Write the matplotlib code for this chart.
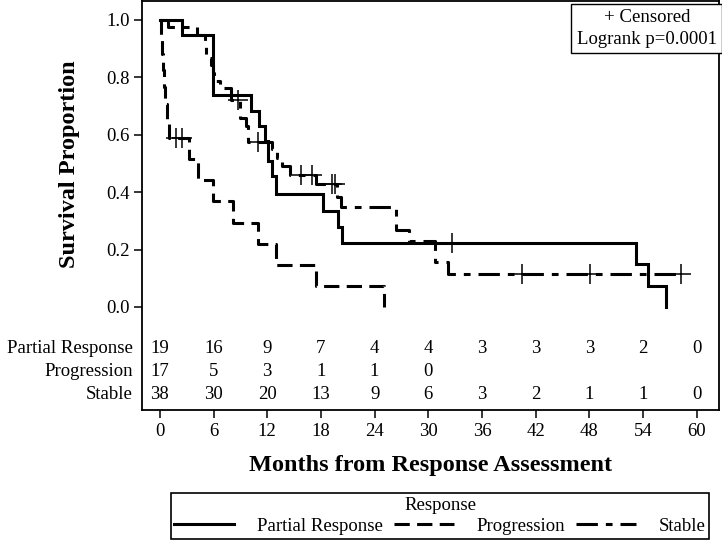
"""Kaplan-Meier curves by response group, with the numbers at risk."""

import matplotlib
matplotlib.use("Agg")
import matplotlib.pyplot as plt
from matplotlib.lines import Line2D
import numpy as np

plt.rcParams['font.family'] = ['Liberation Serif', 'DejaVu Serif']

# Ступінчасті криві (час у місяцях, частка тих, хто вижив)
pr_time = [0, 2.5, 5.9, 10.2, 11.1, 11.8, 12.1, 12.5, 13.0, 18.25, 19.9, 20.4, 53.2, 54.6, 56.6]
pr_surv = [1.0, 0.947, 0.737, 0.684, 0.632, 0.579, 0.51, 0.455, 0.394, 0.336, 0.28, 0.222, 0.149, 0.073, 0.0]
pr_cens = [32.7]

prog_time = [0, 0.1, 0.2, 0.35, 0.5, 0.6, 0.75, 1.0, 3.3, 4.3, 5.9, 8.2, 11.0, 13.0, 17.5, 25.1]
prog_surv = [1.0, 0.941, 0.882, 0.824, 0.765, 0.706, 0.647, 0.588, 0.515, 0.441, 0.368, 0.294, 0.221, 0.147, 0.074, 0.0]
prog_cens = [1.8, 2.5]

st_time = [0, 0.9, 4.1, 5.0, 5.1, 5.7, 5.9, 6.1, 6.7, 8.0, 8.9, 9.6, 9.9, 12.5, 13.1, 13.7,
           14.5, 17.4, 19.8, 20.3, 26.4, 27.8, 30.7, 32.2, 58.2]
st_surv = [1.0, 0.974, 0.947, 0.921, 0.868, 0.842, 0.816, 0.789, 0.763, 0.72, 0.66, 0.63, 0.576,
           0.55, 0.52, 0.49, 0.46, 0.427, 0.384, 0.35, 0.268, 0.23, 0.155, 0.114, 0.114]
st_cens = [8.7, 11.0, 15.8, 17.0, 19.2, 19.6, 40.5, 48.1, 58.2]

# Таблиця кількості пацієнтів під ризиком
risk_times = [0, 6, 12, 18, 24, 30, 36, 42, 48, 54, 60]
risk_labels = ['Partial Response', 'Progression', 'Stable']
risk_pr = [19, 16, 9, 7, 4, 4, 3, 3, 3, 2, 0]
risk_prog = [17, 5, 3, 1, 1, 0]
risk_st = [38, 30, 20, 13, 9, 6, 3, 2, 1, 1, 0]

LW = 2.2
styles = {
    'Partial Response': dict(linestyle='-'),
    'Progression': dict(linestyle=(0, (5, 2.4))),
    'Stable': dict(linestyle=(0, (7, 2.6, 2.2, 2.6))),
}


def step_value(times, surv, t):
    """Значення ступінчастої кривої в момент t."""
    i = np.searchsorted(times, t, side='right') - 1
    return surv[i]


fig = plt.figure(figsize=(7.22, 5.42), dpi=100)
ax = fig.add_axes([142 / 722, 1 - 410 / 542, 577 / 722, 409 / 542])

groups = [
    ('Partial Response', pr_time, pr_surv, pr_cens),
    ('Progression', prog_time, prog_surv, prog_cens),
    ('Stable', st_time, st_surv, st_cens),
]
for name, t, s, c in groups:
    ax.step(t, s, where='post', color='black', linewidth=LW,
            solid_joinstyle='miter', dash_capstyle='butt', **styles[name])
    cy = [step_value(t, s, x) for x in c]
    ax.plot(c, cy, linestyle='none', marker='+', markersize=15,
            markeredgewidth=1.1, color='black')

ax.set_xlim(-2.0, 62.5)
ax.set_ylim(-0.359, 1.066)
ax.set_yticks([0.0, 0.2, 0.4, 0.6, 0.8, 1.0])
ax.set_yticklabels(['0.0', '0.2', '0.4', '0.6', '0.8', '1.0'])
ax.set_xticks(risk_times)
ax.tick_params(axis='both', direction='out', length=6, width=1.1,
               labelsize=13.5, pad=3, colors='black')
for sp in ax.spines.values():
    sp.set_linewidth(1.3)

# Рядки таблиці під ризиком
row_y = [-0.146, -0.226, -0.306]
for label, counts, y in zip(risk_labels, [risk_pr, risk_prog, risk_st], row_y):
    ax.text(-3.0, y, label, ha='right', va='center', fontsize=13.5, clip_on=False)
    for t, n in zip(risk_times, counts):
        ax.text(t, y, str(n), ha='center', va='center', fontsize=13.5)

ax.text(0.996, 0.98, '+ Censored\nLogrank p=0.0001', transform=ax.transAxes,
        ha='right', va='top', multialignment='center', fontsize=13.5,
        linespacing=1.35,
        bbox=dict(boxstyle='square,pad=0.3', fc='white', ec='black', lw=1.0))

fig.text(70 / 722, 1 - 164 / 542, 'Survival Proportion', rotation=90,
         ha='center', va='center', fontsize=17.5, fontweight='bold')
fig.text(431 / 722, 1 - 466 / 542, 'Months from Response Assessment',
         ha='center', va='center', fontsize=17.5, fontweight='bold')

handles = [Line2D([], [], color='black', linewidth=LW, dash_capstyle='butt', **styles[n])
           for n in risk_labels]
leg = fig.legend(handles, risk_labels, title='Response', loc='center',
                 bbox_to_anchor=(440 / 722, 1 - 516 / 542), ncol=3, fontsize=13.5,
                 title_fontsize=13.5, handlelength=3.2, handletextpad=1.2,
                 columnspacing=0.6, borderpad=0.2, labelspacing=0.2,
                 fancybox=False, framealpha=1, edgecolor='black')
leg.get_frame().set_linewidth(1.2)

fig.savefig('out.png', dpi=100)
